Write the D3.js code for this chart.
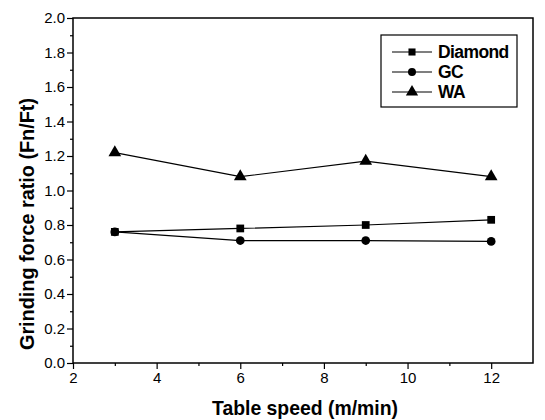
<!DOCTYPE html>
<html>
<head>
<meta charset="utf-8">
<script src="https://cdn.jsdelivr.net/npm/d3@7"></script>
<style>
  body { margin: 0; background: #fff; }
  text { font-family: "Liberation Sans", Arial, sans-serif; fill: #000; }
</style>
</head>
<body>
<script>
const w = 545
const h = 420
const margin = {top: 18, right: 10, bottom: 57, left: 73}

const tableSpeed = [3, 6, 9, 12]
const diamond = [0.76, 0.78, 0.80, 0.83]
const gc = [0.76, 0.71, 0.71, 0.705]
const wa = [1.22, 1.08, 1.17, 1.08]
const seriesNames = ['Diamond', 'GC', 'WA']
const seriesShapes = [d3.symbolSquare, d3.symbolCircle, d3.symbolTriangle]

const xTicks = [2, 4, 6, 8, 10, 12]
const yTicks = [0, 0.2, 0.4, 0.6, 0.8, 1.0, 1.2, 1.4, 1.6, 1.8, 2.0]

const series = [diamond, gc, wa].map(function (vals, i) {
    return {
        name: seriesNames[i],
        shape: seriesShapes[i],
        values: vals.map(function (v, j) { return {x: tableSpeed[j], y: v} })
    }
})

const svg = d3.select('body').append('svg')
    .attr('width', w)
    .attr('height', h)

const xScale = d3.scaleLinear()
    .domain([2, 13])
    .range([margin.left, w - margin.right - 2])

const yScale = d3.scaleLinear()
    .domain([0, 2])
    .range([h - margin.bottom, margin.top])

// frame
svg.append('rect')
    .attr('x', xScale(2))
    .attr('y', yScale(2))
    .attr('width', xScale(13) - xScale(2))
    .attr('height', yScale(0) - yScale(2))
    .attr('fill', 'none')
    .attr('stroke', '#000')
    .attr('stroke-width', 1.5)

// minor ticks
const xMinor = svg.append('g')
    .attr('transform', `translate(0,${yScale(0)})`)
    .call(d3.axisBottom(xScale).tickValues([3, 5, 7, 9, 11]).tickSize(3).tickFormat(''))
xMinor.select('.domain').remove()

const yMinor = svg.append('g')
    .attr('transform', `translate(${xScale(2)},0)`)
    .call(d3.axisLeft(yScale).tickValues(d3.range(0.1, 2, 0.2)).tickSize(3).tickFormat(''))
yMinor.select('.domain').remove()

const xAxis = svg.append('g')
    .attr('transform', `translate(0,${yScale(0)})`)
    .call(d3.axisBottom(xScale).tickValues(xTicks).tickSize(6).tickPadding(3).tickFormat(d3.format('d')))
xAxis.select('.domain').remove()
xAxis.selectAll('text').attr('font-size', 15).attr('font-family', 'Liberation Sans, Arial, sans-serif')

const yAxis = svg.append('g')
    .attr('transform', `translate(${xScale(2)},0)`)
    .call(d3.axisLeft(yScale).tickValues(yTicks).tickSize(6).tickPadding(2).tickFormat(d3.format('.1f')))
yAxis.select('.domain').remove()
yAxis.selectAll('text').attr('font-size', 15).attr('font-family', 'Liberation Sans, Arial, sans-serif')

svg.selectAll('.tick line').attr('stroke', '#000').attr('stroke-width', 1.2)

// axis titles
svg.append('text')
    .attr('x', 305)
    .attr('y', 415)
    .attr('text-anchor', 'middle')
    .attr('font-size', 21)
    .attr('font-weight', 'bold')
    .attr('textLength', 186)
    .attr('lengthAdjust', 'spacingAndGlyphs')
    .text('Table speed (m/min)')

svg.append('text')
    .attr('transform', `translate(34,224) rotate(-90)`)
    .attr('text-anchor', 'middle')
    .attr('font-size', 21)
    .attr('font-weight', 'bold')
    .attr('textLength', 252)
    .attr('lengthAdjust', 'spacingAndGlyphs')
    .text('Grinding force ratio (Fn/Ft)')

// lines and markers
const lineFun = d3.line()
    .x(function (d) { return xScale(d.x) })
    .y(function (d) { return yScale(d.y) })

series.forEach(function (s) {
    svg.append('path')
        .attr('d', lineFun(s.values))
        .attr('fill', 'none')
        .attr('stroke', '#000')
        .attr('stroke-width', 1.2)

    svg.selectAll(null)
        .data(s.values)
        .enter()
        .append('path')
        .attr('transform', function (d) { return `translate(${xScale(d.x)},${yScale(d.y)})` })
        .attr('d', d3.symbol().type(s.shape).size(s.shape === d3.symbolTriangle ? 70 : 60))
        .attr('fill', '#000')
})

// legend
const legend = svg.append('g')

legend.append('rect')
    .attr('x', 381)
    .attr('y', 35)
    .attr('width', 136)
    .attr('height', 72)
    .attr('fill', '#fff')
    .attr('stroke', '#000')
    .attr('stroke-width', 1.2)

series.forEach(function (s, i) {
    const ly = 52 + i * 20
    legend.append('line')
        .attr('x1', 392).attr('x2', 432)
        .attr('y1', ly).attr('y2', ly)
        .attr('stroke', '#000')
        .attr('stroke-width', 1.2)
    legend.append('path')
        .attr('transform', `translate(412,${ly})`)
        .attr('d', d3.symbol().type(s.shape).size(s.shape === d3.symbolTriangle ? 65 : 50))
        .attr('fill', '#000')
    legend.append('text')
        .attr('x', 438)
        .attr('y', ly + 6)
        .attr('font-size', 17.5)
        .attr('font-weight', 'bold')
        .attr('letter-spacing', -0.6)
        .text(s.name)
})
</script>
</body>
</html>
